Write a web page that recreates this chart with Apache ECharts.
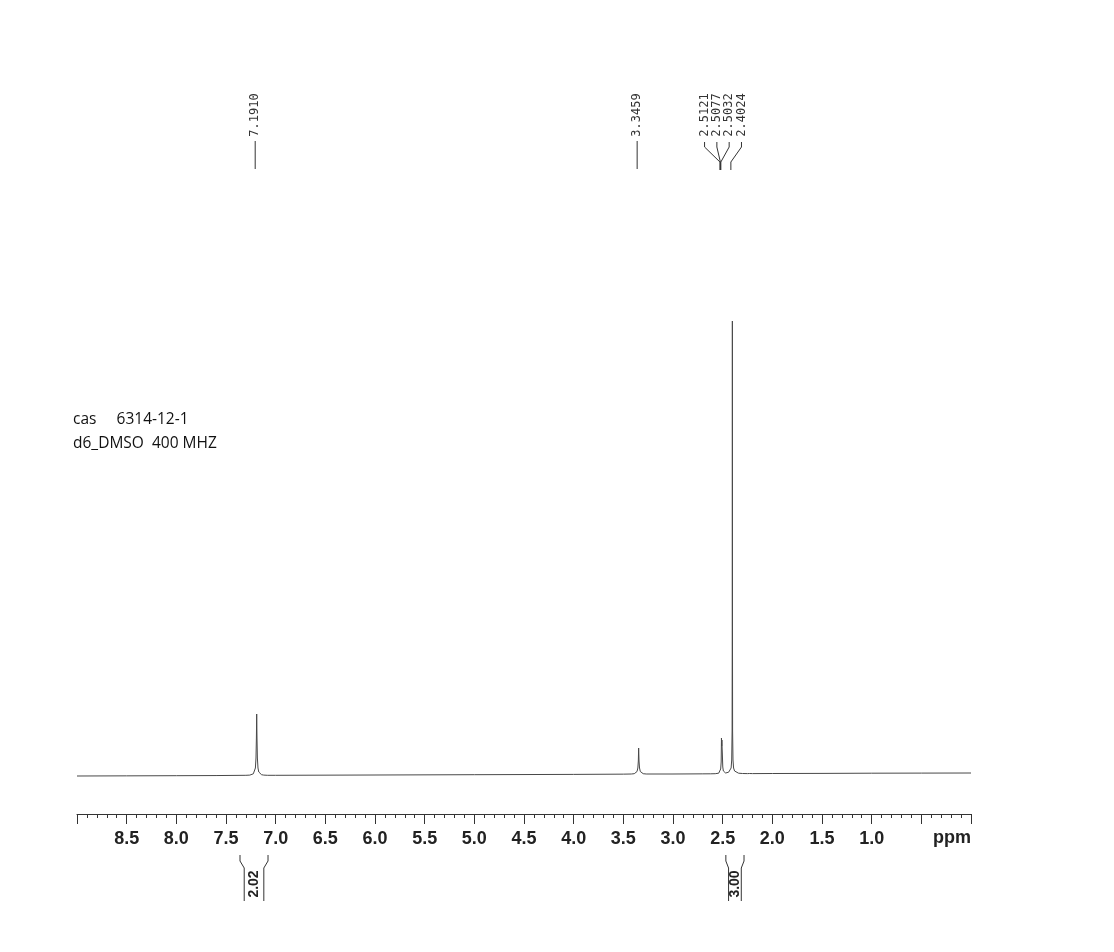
<!DOCTYPE html>
<html>
<head>
<meta charset="utf-8">
<script src="https://cdn.jsdelivr.net/npm/echarts@6/dist/echarts.min.js"></script>
<style>
html,body{margin:0;padding:0;background:#fff;}
#chart{width:1114px;height:952px;}
</style>
</head>
<body>
<div id="chart"></div>
<script>
// ---- Axis ----
const ppmMin = 0.0;
const ppmMax = 9.0;
const tickLabels = ['8.5','8.0','7.5','7.0','6.5','6.0','5.5','5.0','4.5','4.0','3.5','3.0','2.5','2.0','1.5','1.0'];
const axisUnit = 'ppm';

// ---- Spectrum points [ppm, intensity] ----
const baselineLeft = [[9.0,0],[8.5,0.15],[8.0,0.3],[7.6,0.45]];
const peak7191 = [[7.30,0.7],[7.26,0.9],[7.24,1.3],[7.225,2.2],[7.212,4],[7.204,8],[7.198,18],[7.194,38],[7.191,62],[7.188,38],[7.184,18],[7.178,8],[7.170,4],[7.157,2.2],[7.142,1.3],[7.12,0.9],[7.08,0.7]];
const baselineMid = [[7.0,0.7],[6.0,1.0],[5.0,1.3],[4.0,1.6],[3.5,1.85]];
const peak3346 = [[3.42,2.0],[3.39,2.3],[3.375,3],[3.362,4.5],[3.354,8],[3.349,15],[3.3459,28],[3.342,15],[3.337,8],[3.329,4.5],[3.316,3],[3.30,2.3],[3.27,2.0]];
const baselineMid2 = [[3.0,2.0],[2.7,2.15]];
const peak2510 = [[2.62,2.2],[2.575,2.3],[2.562,3.5],[2.556,2.5],[2.54,2.8],[2.528,4],[2.52,7],[2.515,14],[2.5121,38],[2.5099,30],[2.5077,36],[2.5055,28],[2.5032,22],[2.499,9],[2.493,5],[2.485,3.5],[2.47,3],[2.455,3.2],[2.44,3.8],[2.425,5]];
const peak2402 = [[2.415,8],[2.409,16],[2.405,45],[2.4035,150],[2.4024,455],[2.4013,150],[2.400,45],[2.396,16],[2.390,8],[2.38,5],[2.365,3.6],[2.34,2.8],[2.30,2.5],[2.25,2.4],[2.24,3.6],[2.234,3.8],[2.228,2.5],[2.20,2.4]];
const baselineRight = [[2.0,2.5],[1.5,2.6],[1.0,2.8],[0.5,2.9],[0.0,3.0]];

// ---- Peak picking labels ----
const peakPpm = [7.1910, 3.3459, 2.5121, 2.5077, 2.5032, 2.4024];
const peakText = ['7.1910','3.3459','2.5121','2.5077','2.5032','2.4024'];

// ---- Integrals [from ppm, to ppm, value] ----
const integralFrom = [7.359, 2.468];
const integralTo = [7.077, 2.285];
const integralText = ['2.02','3.00'];

// ---- Annotation ----
const noteLines = ['cas     6314-12-1', 'd6_DMSO  400 MHZ'];

const spectrum = [].concat(baselineLeft, peak7191, baselineMid, peak3346, baselineMid2, peak2510, peak2402, baselineRight);

const chart = echarts.init(document.getElementById('chart'), null, {renderer:'canvas'});

function layoutLabels(xs, minGap) {
  // group close peaks and spread their labels evenly around the group's centre
  const out = xs.slice();
  let i = 0;
  while (i < xs.length) {
    let j = i;
    while (j + 1 < xs.length && Math.abs(xs[j+1] - xs[j]) < minGap) j++;
    const n = j - i + 1;
    if (n > 1) {
      let mean = 0;
      for (let k = i; k <= j; k++) mean += xs[k];
      mean /= n;
      for (let k = i; k <= j; k++) out[k] = mean + (k - i - (n - 1) / 2) * minGap;
    }
    i = j + 1;
  }
  return out;
}

const lineColor = '#484848';

const option = {
  backgroundColor: '#ffffff',
  animation: false,
  grid: {left: 77, right: 143, top: 314, bottom: 138},
  xAxis: {
    type: 'value', min: ppmMin, max: ppmMax, inverse: true, interval: 0.5,
    axisLine: {show: true, onZero: false, lineStyle: {color: '#333', width: 1}},
    axisTick: {show: true, length: 10, lineStyle: {color: '#333', width: 1}},
    minorTick: {show: true, splitNumber: 5, length: 4, lineStyle: {color: '#333', width: 1}},
    splitLine: {show: false}, minorSplitLine: {show: false},
    axisLabel: {
      margin: 16, fontSize: 18, fontWeight: 'bold', fontFamily: 'Liberation Sans, Arial, sans-serif', color: '#222',
      formatter: function (v) { const s = v.toFixed(1); return tickLabels.indexOf(s) >= 0 ? s : ''; }
    }
  },
  yAxis: {type: 'value', min: -38, max: 462, show: false},
  graphic: [
    {type: 'text', x: 73, y: 420, style: {text: noteLines[0], fontSize: 15.5, fontFamily: 'Open Sans', fill: '#111', verticalAlign: 'middle'}},
    {type: 'text', x: 73, y: 444, style: {text: noteLines[1], fontSize: 15.5, fontFamily: 'Open Sans', fill: '#111', verticalAlign: 'middle'}},
    {type: 'text', x: 971, y: 838, style: {text: axisUnit, fontSize: 18, fontWeight: 'bold', fontFamily: 'Liberation Sans, Arial, sans-serif', fill: '#222', align: 'right', verticalAlign: 'middle'}}
  ],
  series: [
    {
      type: 'line', data: spectrum, showSymbol: false, symbol: 'none', smooth: false,
      lineStyle: {color: lineColor, width: 1}, clip: false, z: 2
    },
    {
      type: 'custom', coordinateSystem: 'cartesian2d', clip: false, z: 3,
      data: peakPpm.map(function (p) { return [p, 0]; }),
      renderItem: function (params, api) {
        const xs = peakPpm.map(function (p) { return api.coord([p, 0])[0]; });
        const lx = layoutLabels(xs, 12.3);
        const i = params.dataIndex;
        const px = xs[i] - 1.5, tx = lx[i] - 1.5;
        const pts = (Math.abs(tx - px) < 0.5)
          ? [[px, 141], [px, 169]]
          : [[tx, 142], [tx, 147], [px, 162], [px, 170]];
        return {
          type: 'group',
          children: [
            {type: 'polyline', shape: {points: pts}, style: {stroke: '#333', lineWidth: 1, fill: null}},
            {type: 'text', x: tx, y: 115, rotation: Math.PI / 2,
              style: {text: peakText[i], fontSize: 12, fontFamily: 'DejaVu Sans Mono, Liberation Mono, monospace', fill: '#333', align: 'center', verticalAlign: 'middle'}}
          ]
        };
      }
    },
    {
      type: 'custom', coordinateSystem: 'cartesian2d', clip: false, z: 3,
      data: integralFrom.map(function (p, i) { return [p, integralTo[i]]; }),
      renderItem: function (params, api) {
        const x1 = api.coord([api.value(0), 0])[0];
        const x2 = api.coord([api.value(1), 0])[0];
        const inset = Math.min(5, (x2 - x1) * 0.15);
        const yTop = 855, yKnee1 = 861, yKnee2 = 868, yBot = 901;
        return {
          type: 'group',
          children: [
            {type: 'polyline', shape: {points: [[x1, yTop], [x1, yKnee1], [x1 + inset, yKnee2], [x1 + inset, yBot]]}, style: {stroke: '#333', lineWidth: 1, fill: null}},
            {type: 'polyline', shape: {points: [[x2, yTop], [x2, yKnee1], [x2 - inset, yKnee2], [x2 - inset, yBot]]}, style: {stroke: '#333', lineWidth: 1, fill: null}},
            {type: 'text', x: (x1 + x2) / 2, y: 884, rotation: Math.PI / 2,
              style: {text: integralText[params.dataIndex], fontSize: 14, fontWeight: 'bold', fontFamily: 'Liberation Sans, Arial, sans-serif', fill: '#222', align: 'center', verticalAlign: 'middle'}}
          ]
        };
      }
    }
  ]
};
chart.setOption(option);
</script>
</body>
</html>
